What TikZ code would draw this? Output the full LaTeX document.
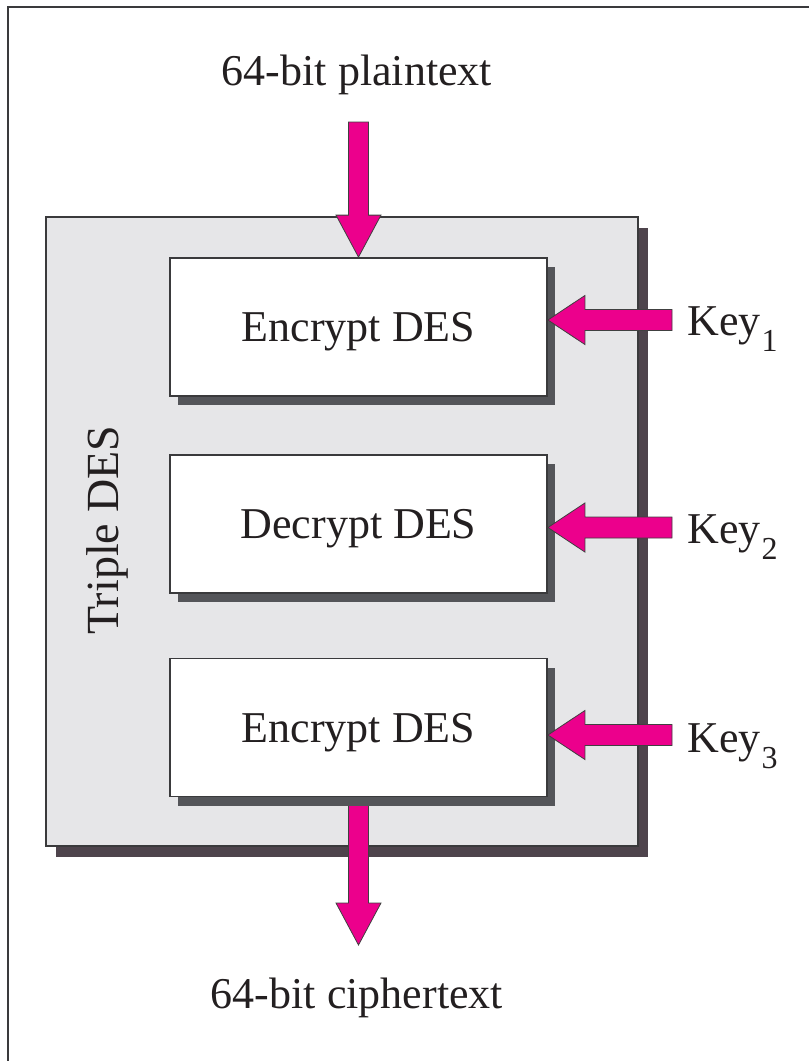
\documentclass[tikz,border=0pt]{standalone}
\usepackage{fontspec}
\setmainfont{Liberation Serif}
\usetikzlibrary{calc,shadows}

\definecolor{desmag}{HTML}{EC008C}
\definecolor{desgray}{HTML}{E6E6E8}
\definecolor{outshadow}{HTML}{4E444C}
\definecolor{inshadow}{HTML}{545559}
\definecolor{inkcol}{HTML}{231F20}
\definecolor{edgecol}{HTML}{3A3A3C}

\pgfdeclarelayer{bg}
\pgfdeclarelayer{mid}
\pgfsetlayers{bg,mid,main}

\tikzset{
  lbl/.style={font=\fontsize{22}{26}\selectfont, text=inkcol, inner sep=0pt},
  desbox/.style={draw=edgecol, line width=0.9pt, fill=white,
    minimum width=188.5pt, minimum height=69pt, inner sep=0pt,
    lbl, text depth=0pt,
    drop shadow={shadow xshift=4pt, shadow yshift=-4.5pt,
      fill=inshadow, opacity=1}},
  tdesbox/.style={draw=edgecol, line width=0.9pt, fill=desgray,
    minimum width=296pt, minimum height=314.5pt, inner sep=0pt,
    drop shadow={shadow xshift=5pt, shadow yshift=-5.5pt,
      fill=outshadow, opacity=1}},
  fatarrow/.style={fill=desmag, draw=black!75, line width=0.4pt,
    line join=miter},
  frameline/.style={draw=edgecol, line width=1.2pt},
}

% block arrow pointing down: from shaft top #1 to tip #2
\newcommand\fatdown[2]{%
  \path[fatarrow] let \p1=(#1), \p2=(#2) in
    (\x1-5pt,\y1) -- (\x1-5pt,\y2+21pt) -- (\x1-11.25pt,\y2+21pt) --
    (\x1,\y2) -- (\x1+11.25pt,\y2+21pt) -- (\x1+5pt,\y2+21pt) --
    (\x1+5pt,\y1) -- cycle;}
% block arrow pointing left: from shaft end #1 to tip #2
\newcommand\fatleft[2]{%
  \path[fatarrow] let \p1=(#1), \p2=(#2) in
    (\x1,\y1-5.25pt) -- (\x2+18.5pt,\y1-5.25pt) -- (\x2+18.5pt,\y1-12.25pt) --
    (\x2,\y1) -- (\x2+18.5pt,\y1+12.25pt) -- (\x2+18.5pt,\y1+5.25pt) --
    (\x1,\y1+5.25pt) -- cycle;}
\newcommand\keylabel[1]{Key\kern0.5pt\raisebox{-8pt}{\fontsize{16}{18}\selectfont #1}}

\begin{document}
\begin{tikzpicture}[x=0.5pt, y=-0.5pt]
\useasboundingbox (0,0) rectangle (809,1061);

\begin{pgfonlayer}{bg}
  % page frame
  \draw[frameline] (809,7) -- (8,7) -- (8,1061);
  % Triple DES container
  \node[tdesbox] (tdes) at (342,531.5) {};
\end{pgfonlayer}

% the three DES stages
\node[desbox] (e1) at (358.5,327)   {Encrypt DES};
\node[desbox] (d2) at (358.5,524)   {Decrypt DES};
\node[desbox] (e3) at (358.5,727.5) {Encrypt DES};

\node[lbl, rotate=90, anchor=base, font=\fontsize{23}{27}\selectfont] (tlabel) at (118,530) {Triple DES};

% input / output
\node[lbl, anchor=base] (pt) at (357,85) {64-bit plaintext};
\node[lbl, anchor=base] (ct) at (357,1008) {64-bit ciphertext};
\coordinate (pin)  at (358.5,122);
\coordinate (pout) at (358.5,945);

\fatdown{pin}{e1.north}
\begin{pgfonlayer}{mid}
  \fatdown{e3.south}{pout}
\end{pgfonlayer}

% keys
\node[lbl, anchor=base west] (key1) at (687,335) {\keylabel{1}};
\node[lbl, anchor=base west] (key2) at (687,543) {\keylabel{2}};
\node[lbl, anchor=base west] (key3) at (687,752) {\keylabel{3}};
\coordinate (k1) at (672,320);
\coordinate (k2) at (672,527.5);
\coordinate (k3) at (672,735);

\fatleft{k1}{e1.east}
\fatleft{k2}{d2.east}
\fatleft{k3}{e3.east}
\end{tikzpicture}
\end{document}
